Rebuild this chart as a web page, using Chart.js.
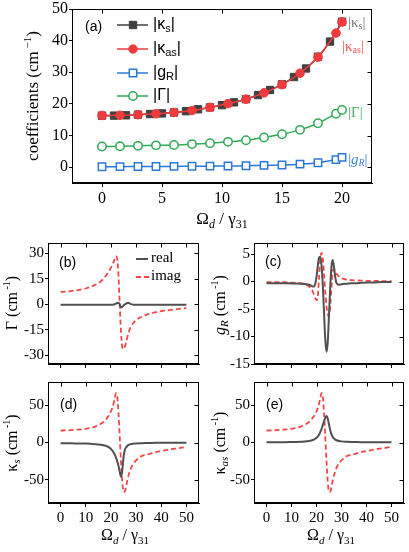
<!DOCTYPE html>
<html><head><meta charset="utf-8">
<script src="https://cdn.jsdelivr.net/npm/chart.js@4.4.1/dist/chart.umd.min.js"></script>
<style>
html,body{margin:0;padding:0;background:#fff;}
#wrap{position:relative;width:409px;height:552px;overflow:hidden;background:#fff}
canvas{position:absolute}
</style></head><body>
<div id="wrap">
<canvas id="ca"></canvas>
<canvas id="cb"></canvas>
<canvas id="cc"></canvas>
<canvas id="cd"></canvas>
<canvas id="ce"></canvas>
</div>
<script>
// ---------- Panel (a) data ----------
const xKs = [0,1,2,3,4,5,6,7,8,9,10,11,12,13,14,15,16,17,18,19,20];
const kappaS = [16.3,16.3,16.4,16.6,16.8,17.0,17.3,17.7,18.3,18.9,19.6,20.5,21.5,22.8,24.4,26.2,28.5,31.2,34.9,39.7,46.0];
const xOther = [0,1.5,3,4.5,6,7.5,9,10.5,12,13.5,15,16.5,18,19.5,20];
const kappaAS = [16.35,16.4,16.6,16.9,17.3,17.9,18.9,20.1,21.5,23.5,26.1,29.7,34.8,42.4,45.9];
const gRabs = [0.15,0.17,0.2,0.22,0.25,0.28,0.32,0.37,0.45,0.55,0.7,0.95,1.4,2.4,3.1];
const gammaAbs = [6.55,6.6,6.75,6.9,7.0,7.3,7.6,8.0,8.5,9.4,10.4,11.8,13.9,16.9,18.1];
const xTicksA = [0,5,10,15,20];
const yTicksA = [0,10,20,30,40,50];

// ---------- Panels (b)-(e) data ----------
const xs = [0,2,4,6,8,10,12,14,16,17,18,18.5,19,19.5,20,20.5,21,21.5,22,22.5,23,23.5,24,24.5,25,25.5,26,26.5,27,27.5,28,29,30,32,34,36,38,40,42,44,46,48,50];
const gammaImag = [7.3,7.5,7.8,8.2,8.7,9.3,10.3,11.6,13.5,15.0,16.8,17.8,18.9,20.1,21.5,23.0,24.6,26.5,28.3,27.0,17.0,0.0,-16.0,-25.0,-26.3,-25.0,-22.5,-19.5,-16.8,-14.6,-13.0,-10.8,-9.3,-7.4,-6.2,-5.3,-4.6,-4.0,-3.6,-3.2,-2.8,-2.5,-2.2];
const gammaReal = [-0.3,-0.3,-0.3,-0.3,-0.3,-0.3,-0.3,-0.3,-0.3,-0.3,-0.3,-0.3,-0.3,-0.3,-0.3,-0.2,-0.1,0.1,0.4,0.8,1.0,0.0,-1.8,-1.5,-0.7,-0.1,0.4,0.8,0.9,0.5,0.1,-0.2,-0.3,-0.3,-0.3,-0.3,-0.3,-0.3,-0.3,-0.3,-0.3,-0.3,-0.3];
const gRReal = [-0.3,-0.3,-0.3,-0.3,-0.3,-0.35,-0.35,-0.4,-0.5,-0.6,-0.8,-0.9,-0.9,-0.4,0.8,2.8,4.3,4.5,3.0,-0.5,-5.5,-10.5,-12.8,-11.0,-6.0,-1.0,2.8,3.9,2.6,0.8,-0.3,-0.6,-0.5,-0.4,-0.3,-0.3,-0.25,-0.2,-0.2,-0.15,-0.1,-0.1,-0.1];
const gRImag = [-0.1,-0.1,-0.1,-0.1,-0.15,-0.2,-0.25,-0.35,-0.6,-0.9,-1.4,-1.8,-2.4,-3.0,-3.4,-2.8,0.5,4.0,5.2,4.2,1.5,-1.8,-4.5,-6.0,-6.3,-4.5,-1.0,1.8,2.3,1.9,1.4,0.9,0.6,0.35,0.25,0.2,0.15,0.12,0.1,0.1,0.08,0.07,0.06];
const kSReal = [-1.0,-1.0,-1.1,-1.2,-1.3,-1.5,-1.8,-2.2,-3.0,-3.6,-4.5,-5.2,-6.0,-7.2,-8.5,-10.5,-13,-16,-20,-25,-31,-39,-46,-38,-20,-10,-6.5,-4.5,-3.2,-2.5,-2.0,-1.5,-1.2,-0.9,-0.7,-0.6,-0.5,-0.4,-0.4,-0.3,-0.3,-0.3,-0.3];
const kSImag = [16,16.2,16.6,17.1,17.6,18.3,19.5,21.5,25.0,27.5,30.8,33.0,35.5,38.5,41.5,46,51.5,59,66,62,40,8,-25,-52,-66,-66,-59,-51,-44,-38.5,-34,-28,-24,-18.5,-16.5,-14.5,-12.8,-11.5,-10.2,-9.0,-8.0,-7.0,-5.8];
const kASReal = [0.3,0.3,0.35,0.4,0.5,0.6,0.8,1.1,1.6,2.1,2.8,3.3,4.0,5.0,6.2,8,10.5,14,18,23,28.5,33,35.5,32,24,16.5,11,7.5,5.3,3.9,3.0,2.0,1.5,1.0,0.7,0.55,0.45,0.4,0.35,0.3,0.3,0.3,0.3];
const kASImag = [16,16.2,16.6,17.1,17.6,18.3,19.5,21.5,25.0,27.5,30.8,33.0,35.5,38.5,41.5,46,51.5,59,66,62,40,8,-25,-52,-66,-66,-59,-51,-44,-38.5,-34,-28,-24,-18.5,-16.5,-14.5,-12.8,-11.5,-10.2,-9.0,-8.0,-7.0,-5.8];
const xTicksB = [0,10,20,30,40,50];
const yTicksB = [-30,-15,0,15,30];
const yTicksC = [-15,-10,-5,0,5];
const yTicksD = [-50,0,50];

// ---------- helpers ----------
const SERIF = "'Liberation Serif','Times New Roman',serif";
const SANS = "'Liberation Sans',Arial,sans-serif";
const RED = '#EF3B3B', DARK = '#404040', BLUE = '#2A78D8', GREEN = '#2FA955';
const LRED = '#F44646', LGRAY = '#505050';
const pts = (x, y) => x.map((v, i) => ({x: v, y: y[i]}));

function rich(ctx, segs, x, y, align, rot, color) {
  ctx.save(); ctx.translate(x, y); if (rot) ctx.rotate(-Math.PI / 2);
  ctx.textBaseline = 'middle'; ctx.fillStyle = color || '#000';
  let w = 0; segs.forEach(s => { ctx.font = s[1]; w += ctx.measureText(s[0]).width; });
  let cx = align === 'center' ? -w / 2 : (align === 'right' ? -w : 0);
  segs.forEach(s => { ctx.font = s[1]; ctx.fillText(s[0], cx, s[2] || 0); cx += ctx.measureText(s[0]).width; });
  ctx.restore();
}
function frame(chart, xt, yt) {
  const c = chart.ctx, a = chart.chartArea, sx = chart.scales.x, sy = chart.scales.y;
  c.save(); c.strokeStyle = '#000'; c.lineWidth = 1;
  const l = Math.round(a.left) + 0.5, t = Math.round(a.top) + 0.5, r = Math.round(a.right) - 0.5, b = Math.round(a.bottom) - 0.5;
  c.strokeRect(l, t, r - l, b - t);
  c.beginPath();
  xt.forEach(v => { const p = Math.round(sx.getPixelForValue(v)) + 0.5; c.moveTo(p, t); c.lineTo(p, t + 4); });
  yt.forEach(v => { const p = Math.round(sy.getPixelForValue(v)) + 0.5; c.moveTo(r, p); c.lineTo(r - 4, p); });
  c.stroke(); c.restore();
}
function axis(min, max, ticks, size, isX, labels, fs) {
  return {
    type: 'linear', min: min, max: max,
    afterBuildTicks: s => { s.ticks = ticks.map(v => ({value: v})); },
    afterFit: s => { if (isX) s.height = size; else s.width = size; s.paddingLeft = 0; s.paddingRight = 0; s.paddingTop = 0; s.paddingBottom = 0; },
    grid: {drawOnChartArea: false, drawTicks: true, tickLength: isX ? 4 : 3, color: '#000', lineWidth: 1},
    border: {display: true, color: '#000', width: 1},
    ticks: {display: labels, autoSkip: false, maxRotation: 0, padding: isX ? 2 : 1, color: '#000', font: {family: SERIF, size: fs}}
  };
}
function mk(id, L, T, W, H, datasets, scales, pad, xt, yt, deco) {
  const cv = document.getElementById(id);
  cv.width = W; cv.height = H; cv.style.left = L + 'px'; cv.style.top = T + 'px';
  return new Chart(cv, {
    type: 'line', data: {datasets: datasets},
    options: {responsive: false, animation: false, devicePixelRatio: 1, layout: {padding: pad},
      plugins: {legend: {display: false}, tooltip: {enabled: false}}, scales: scales},
    plugins: [{id: 'deco' + id, afterDraw(chart) {
      frame(chart, xt, yt);
      const c = chart.ctx; c.save(); c.translate(-L, -T); deco(c, chart, L, T); c.restore();
    }}]
  });
}

// ---------- Panel (a) ----------
mk('ca', 0, 0, 409, 232, [
  {data: pts(xOther, kappaAS), borderColor: RED, backgroundColor: RED, borderWidth: 1.5, pointStyle: 'circle', pointRadius: 4.3, pointBorderWidth: 1, tension: 0.3, order: 1},
  {data: pts(xKs, kappaS), borderColor: DARK, backgroundColor: DARK, borderWidth: 1.5, pointStyle: 'rect', pointRadius: 5.2, pointBorderWidth: 1, tension: 0.3, order: 2},
  {data: pts(xOther, gRabs), borderColor: BLUE, backgroundColor: '#fff', borderWidth: 1.5, pointStyle: 'rect', pointRadius: 5.2, pointBorderWidth: 1.5, tension: 0.3, order: 3},
  {data: pts(xOther, gammaAbs), borderColor: GREEN, backgroundColor: '#fff', borderWidth: 1.5, pointStyle: 'circle', pointRadius: 4.2, pointBorderWidth: 1.5, tension: 0.3, order: 3}
], {x: axis(-2.5, 22.5, xTicksA, 49, true, true, 16), y: axis(-5, 50, yTicksA, 72, false, true, 16)},
{left: 0, top: 9, right: 37, bottom: 0}, xTicksA, yTicksA, (c, chart) => {
  const F = s => s + 'px ' + SANS, T = s => s + 'px ' + SERIF, TI = s => 'italic ' + s + 'px ' + SERIF;
  rich(c, [['(a)', F(14)]], 85, 27, 'left');
  // legend
  const rows = [
    {y: 25, col: DARK, fill: DARK, st: 'sq', segs: [['|κ', F(16)], ['s', F(11), 4], ['|', F(16)]]},
    {y: 49, col: RED, fill: RED, st: 'ci', segs: [['|κ', F(16)], ['as', F(11), 4], ['|', F(16)]]},
    {y: 73, col: BLUE, fill: '#fff', st: 'sq', segs: [['|g', F(16)], ['R', F(11), 4], ['|', F(16)]]},
    {y: 96, col: GREEN, fill: '#fff', st: 'ci', segs: [['|Γ|', F(16)]]}
  ];
  rows.forEach(r => {
    c.save(); c.strokeStyle = r.col; c.lineWidth = 1.5;
    c.beginPath(); c.moveTo(117, r.y); c.lineTo(148, r.y); c.stroke();
    c.fillStyle = r.fill; c.beginPath();
    if (r.st === 'sq') c.rect(129.3, r.y - 3.7, 7.4, 7.4); else c.arc(133, r.y, 4.2, 0, Math.PI * 2);
    c.fill(); c.lineWidth = (r.fill === '#fff') ? 1.5 : 1; c.stroke(); c.restore();
    rich(c, r.segs, 153, r.y, 'left', false, '#000');
  });
  // right-side labels
  rich(c, [['|κ', T(15)], ['s', T(10), 3], ['|', T(15)]], 348, 23, 'left', false, '#7A7A7A');
  rich(c, [['|κ', T(15)], ['as', T(10), 3], ['|', T(15)]], 342, 47, 'left', false, '#F25A5A');
  rich(c, [['|Γ|', T(15)]], 348, 113, 'left', false, '#45B06A');
  rich(c, [['|', T(15)], ['g', TI(15)], ['R', TI(10), 3], ['|', T(15)]], 348, 160, 'left', false, '#3D86E0');
  // axis titles
  rich(c, [['coefficients (cm', T(17)], [' −1', T(11), -6], [')', T(17)]], 34, 96, 'center', true);
  rich(c, [['Ω', T(17)], ['d', TI(12), 5], [' / γ', T(17)], ['31', T(12), 5]], 222, 220, 'center');
});

// ---------- Panels (b)-(e) ----------
function lines(real, imag) {
  return [
    {data: pts(xs, real), borderColor: LGRAY, borderWidth: 2, pointRadius: 0, cubicInterpolationMode: 'monotone', order: 1},
    {data: pts(xs, imag), borderColor: LRED, borderWidth: 1.8, borderDash: [5, 3], pointRadius: 0, cubicInterpolationMode: 'monotone', order: 2}
  ];
}
const T = s => s + 'px ' + SERIF, TI = s => 'italic ' + s + 'px ' + SERIF, F = s => s + 'px ' + SANS;
const sup = [' -1', T(10), -6];

mk('cb', 0, 236, 205, 134, lines(gammaReal, gammaImag),
  {x: axis(-5, 55, xTicksB, 6, true, false, 15), y: axis(-35, 36, yTicksB, 48, false, true, 15)},
  {left: 0, top: 7, right: 6, bottom: 0}, xTicksB, yTicksB, (c, chart) => {
    rich(c, [['(b)', F(14)]], 59, 263, 'left');
    c.save(); c.lineWidth = 2; c.strokeStyle = LGRAY; c.beginPath(); c.moveTo(136, 259); c.lineTo(148, 259); c.stroke();
    c.strokeStyle = LRED; c.lineWidth = 1.8; c.setLineDash([5, 3]); c.beginPath(); c.moveTo(136, 277); c.lineTo(150, 277); c.stroke(); c.restore();
    rich(c, [['real', T(15)]], 151, 258, 'left');
    rich(c, [['imag', T(15)]], 151, 276, 'left');
    rich(c, [['Γ (cm', T(16)], sup, [')', T(16)]], 13, 303, 'center', true);
  });

mk('cc', 205, 236, 204, 134, lines(gRReal, gRImag),
  {x: axis(-5, 55, xTicksB, 6, true, false, 15), y: axis(-15, 7, yTicksC, 49, false, true, 15)},
  {left: 0, top: 7, right: 5, bottom: 0}, xTicksB, yTicksC, (c, chart) => {
    rich(c, [['(c)', F(14)]], 265, 262, 'left');
    rich(c, [['g', TI(16)], ['R', TI(11), 4], [' (cm', T(16)], sup, [')', T(16)]], 221, 305, 'center', true);
  });

mk('cd', 0, 372, 205, 180, lines(kSReal, kSImag),
  {x: axis(-5, 55, xTicksB, 49, true, true, 15), y: axis(-81, 81, yTicksD, 48, false, true, 15)},
  {left: 0, top: 10, right: 6, bottom: 0}, xTicksB, yTicksD, (c, chart) => {
    rich(c, [['(d)', F(14)]], 60, 405, 'left');
    rich(c, [['κ', T(16)], ['s', TI(11), 4], [' (cm', T(16)], sup, [')', T(16)]], 13, 443, 'center', true);
    rich(c, [['Ω', T(16)], ['d', TI(11), 5], [' / γ', T(16)], ['31', T(11), 5]], 125, 536, 'center');
  });

mk('ce', 205, 372, 204, 180, lines(kASReal, kASImag),
  {x: axis(-5, 55, xTicksB, 49, true, true, 15), y: axis(-81, 81, yTicksD, 49, false, true, 15)},
  {left: 0, top: 10, right: 5, bottom: 0}, xTicksB, yTicksD, (c, chart) => {
    rich(c, [['(e)', F(14)]], 266, 405, 'left');
    rich(c, [['κ', T(16)], ['as', TI(11), 4], [' (cm', T(16)], sup, [')', T(16)]], 221, 443, 'center', true);
    rich(c, [['Ω', T(16)], ['d', TI(11), 5], [' / γ', T(16)], ['31', T(11), 5]], 331, 536, 'center');
  });
</script>
</body></html>
